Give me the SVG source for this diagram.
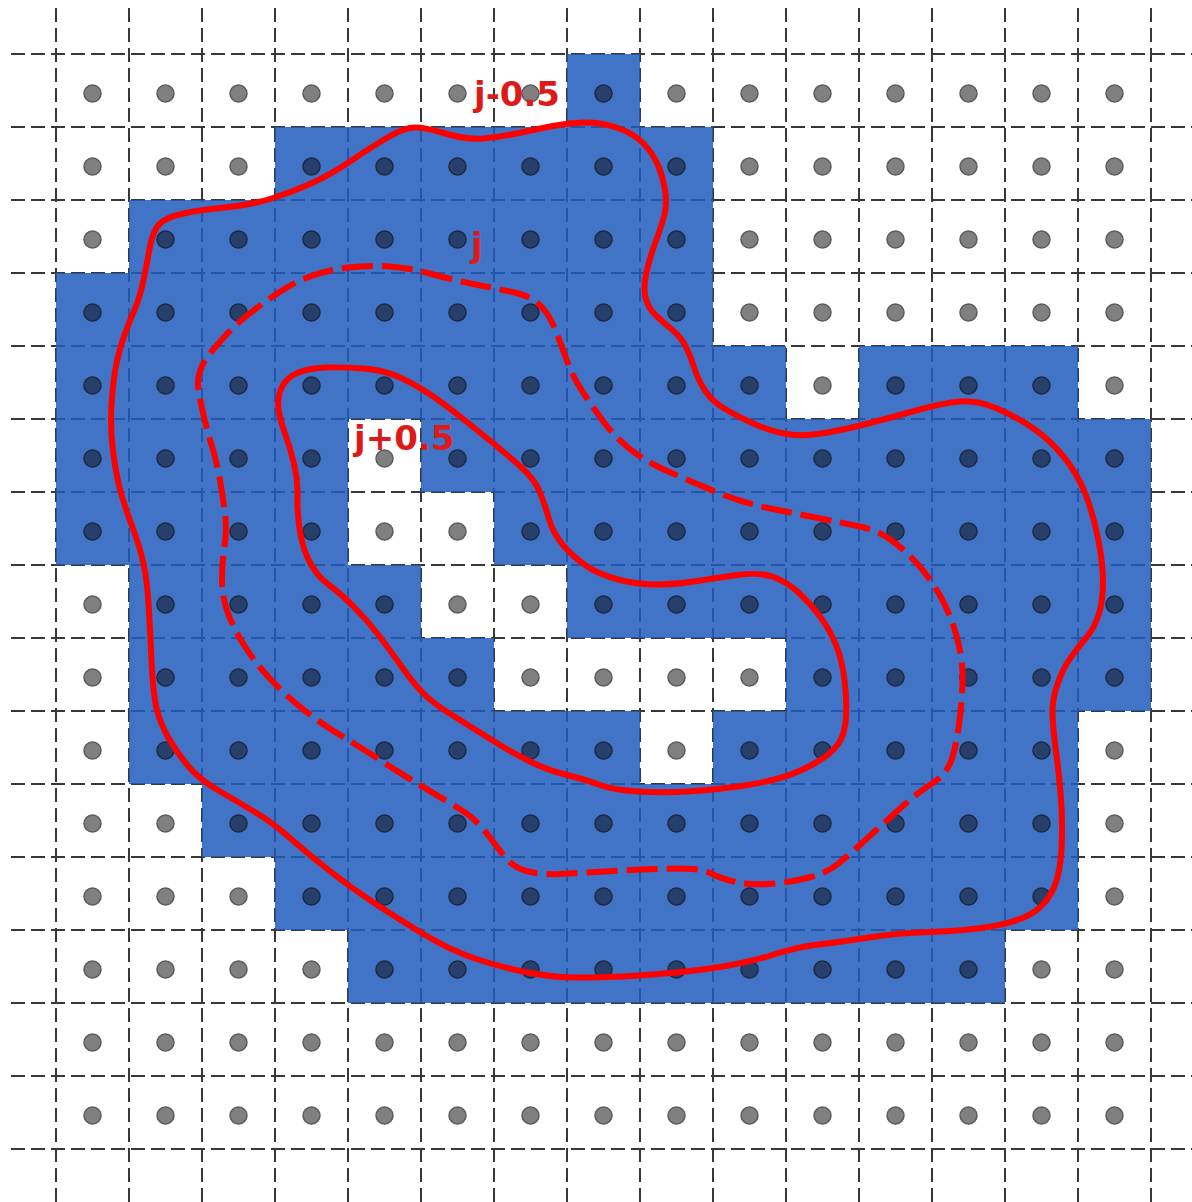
<svg xmlns="http://www.w3.org/2000/svg" width="1192" height="1202" viewBox="0 0 1192 1202">
<style>
.grid{fill:none;stroke:#383838;stroke-width:2;stroke-dasharray:14 6}
.cell{fill:#205cbc;fill-opacity:0.85}
.contour{fill:none;stroke:#ff0000;stroke-width:6;stroke-linejoin:round}
.dashed{stroke-dasharray:31 9}
.lbl{font-family:"DejaVu Sans",sans-serif;font-weight:bold;font-size:34px;fill:#dd1a1a}
</style>
<defs>
<pattern id="greyDots" patternUnits="userSpaceOnUse" x="56" y="54" width="73" height="73">
<circle cx="36.5" cy="39.5" r="8.5" fill="#808080" stroke="#5a5a5a" stroke-width="1.5"/>
</pattern>
<pattern id="darkDots" patternUnits="userSpaceOnUse" x="56" y="54" width="73" height="73">
<rect width="73" height="73" fill="none"/>
<circle cx="36.5" cy="39.5" r="8.5" fill="#263f6b" stroke="#18294a" stroke-width="1.5"/>
</pattern>
<path id="blueArea" d="M567 54h73v73h-73z M275 127h438v73h-438z M129 200h584v73h-584z M56 273h657v73h-657z M56 346h730v73h-730z M859 346h219v73h-219z M56 419h292v73h-292z M421 419h730v73h-730z M56 492h292v73h-292z M494 492h657v73h-657z M129 565h292v73h-292z M567 565h584v73h-584z M129 638h365v73h-365z M786 638h365v73h-365z M129 711h511v73h-511z M713 711h365v73h-365z M202 784h876v73h-876z M275 857h803v73h-803z M348 930h657v73h-657z"/>
</defs>
<rect width="1192" height="1202" fill="#ffffff"/>
<g id="grid-lines">
<path class="grid" d="M56 8V1202M129 8V1202M202 8V1202M275 8V1202M348 8V1202M421 8V1202M494 8V1202M567 8V1202M640 8V1202M713 8V1202M786 8V1202M859 8V1202M932 8V1202M1005 8V1202M1078 8V1202M1151 8V1202"/>
<path class="grid" d="M11 54H1192M11 127H1192M11 200H1192M11 273H1192M11 346H1192M11 419H1192M11 492H1192M11 565H1192M11 638H1192M11 711H1192M11 784H1192M11 857H1192M11 930H1192M11 1003H1192M11 1076H1192M11 1149H1192"/>
</g>
<g id="cells">
<use href="#blueArea" class="cell"/>
</g>
<g id="dots">
<rect x="56" y="54" width="1095" height="1095" fill="url(#greyDots)"/>
<use href="#blueArea" fill="url(#darkDots)"/>
</g>
<g id="contours">
<path id="contour-outer" class="contour" d="M 410,128 Q 420,126 443.5,133 Q 467,140 483.5,138.5 Q 500,137 516.5,133.5 Q 533,130 550,126.5 Q 567,123 583.5,122.5 Q 600,122 616.5,127.5 Q 633,133 643,143 Q 653,153 658.5,166.5 Q 664,180 665.5,193.5 Q 667,207 663.5,218.5 Q 660,230 655,243.5 Q 650,257 646.5,272 Q 643,287 645.5,297.5 Q 648,308 656,315.5 Q 664,323 672.5,330 Q 681,337 686,347 Q 691,357 694.5,368.5 Q 698,380 705,390.5 Q 712,401 723.5,408 Q 735,415 751,422.5 Q 767,430 783.5,433.5 Q 800,437 821.5,433.5 Q 843,430 868,423.5 Q 893,417 918,410 Q 943,403 960,401.5 Q 977,400 997,408.5 Q 1017,417 1033.5,428.5 Q 1050,440 1063.5,456.5 Q 1077,473 1085,493 Q 1093,513 1098,538 Q 1103,563 1103,581.5 Q 1103,600 1099,613.5 Q 1095,627 1087.5,636 Q 1080,645 1071.5,656.5 Q 1063,668 1057.5,684 Q 1052,700 1052.5,715 Q 1053,730 1055.5,747.5 Q 1058,765 1060.5,792.5 Q 1063,820 1061.5,848.5 Q 1060,877 1051.5,892.5 Q 1043,908 1028,915.5 Q 1013,923 988,927 Q 963,931 930,932 Q 897,933 868.5,937.5 Q 840,942 818.5,944.5 Q 797,947 772,955 Q 747,963 713.5,968 Q 680,973 638.5,975.5 Q 597,978 573.5,977.5 Q 550,977 525,972 Q 500,967 475,958.5 Q 450,950 425,935 Q 400,920 375,903.5 Q 350,887 328.5,870 Q 307,853 290,838 Q 273,823 256.5,813 Q 240,803 220,791.5 Q 200,780 188.5,766.5 Q 177,753 168.5,738 Q 160,723 156.5,708 Q 153,693 151.5,660 Q 150,627 148.5,603.5 Q 147,580 143.5,563.5 Q 140,547 133.5,530 Q 127,513 122,496.5 Q 117,480 113.5,455 Q 110,430 111.5,405 Q 113,380 116.5,363.5 Q 120,347 125,333.5 Q 130,320 135,308.5 Q 140,297 143.5,280 Q 147,263 150,246.5 Q 153,230 160,223.5 Q 167,217 183.5,213.5 Q 200,210 225,207.5 Q 250,205 270,199 Q 290,193 310,184 Q 330,175 350,161.5 Q 370,148 385,139 Q 400,130 410,128 Z"/>
<path id="contour-mid" class="contour dashed" d="M 198.5,390 Q 197,380 200,371 Q 203,362 210,353.5 Q 217,345 226,335 Q 235,325 249,314 Q 263,303 278,293 Q 293,283 310,276.5 Q 327,270 348.5,267.5 Q 370,265 390,266.5 Q 410,268 431.5,274 Q 453,280 473,284 Q 493,288 510,291.5 Q 527,295 535,301 Q 543,307 548,315 Q 553,323 558,336.5 Q 563,350 568,363.5 Q 573,377 581.5,390 Q 590,403 601.5,419 Q 613,435 628,447.5 Q 643,460 665,470 Q 687,480 715,491.5 Q 743,503 768,508 Q 793,513 818,518 Q 843,523 860,526.5 Q 877,530 891,540 Q 905,550 917.5,564 Q 930,578 940,595.5 Q 950,613 956,634 Q 962,655 962.5,672.5 Q 963,690 960,716.5 Q 957,743 952,758.5 Q 947,774 932,783.5 Q 917,793 900,808.5 Q 883,824 866.5,839 Q 850,854 838.5,863.5 Q 827,873 807,878 Q 787,883 767,884 Q 747,885 733.5,881.5 Q 720,878 712.5,874 Q 705,870 692.5,869 Q 680,868 655,869 Q 630,870 605,871.5 Q 580,873 560,874 Q 540,875 526.5,871 Q 513,867 505,857 Q 497,847 489.5,837 Q 482,827 474.5,820 Q 467,813 450,803 Q 433,793 416.5,783 Q 400,773 380,760 Q 360,747 340,735 Q 320,723 301.5,708 Q 283,693 268,676.5 Q 253,660 243,643.5 Q 233,627 227.5,612 Q 222,597 222,580 Q 222,563 224.5,546.5 Q 227,530 225,513.5 Q 223,497 220,480 Q 217,463 212,446.5 Q 207,430 203.5,415 Q 200,400 198.5,390 Z"/>
<path id="contour-inner" class="contour" d="M 282,387 Q 287,377 298.5,372.5 Q 310,368 326.5,367.5 Q 343,367 363,368.5 Q 383,370 398,376.5 Q 413,383 428,393 Q 443,403 460,416.5 Q 477,430 493.5,443.5 Q 510,457 522.5,468.5 Q 535,480 540,492.5 Q 545,505 549,519 Q 553,533 563,545 Q 573,557 586.5,566 Q 600,575 620,580 Q 640,585 660,584.5 Q 680,584 697.5,581 Q 715,578 737.5,575 Q 760,572 773.5,577 Q 787,582 798.5,592.5 Q 810,603 820,616.5 Q 830,630 836,645 Q 842,660 844.5,680 Q 847,700 846,717.5 Q 845,735 837.5,745 Q 830,755 813.5,764 Q 797,773 780,778 Q 763,783 738,786.5 Q 713,790 688,791.5 Q 663,793 638,791.5 Q 613,790 600,785 Q 587,780 567,775 Q 547,770 530,761.5 Q 513,753 500,745 Q 487,737 473.5,728.5 Q 460,720 446.5,711.5 Q 433,703 423,693 Q 413,683 401.5,666.5 Q 390,650 378.5,635 Q 367,620 353.5,606.5 Q 340,593 329,585 Q 318,577 310.5,563.5 Q 303,550 300,531.5 Q 297,513 297.5,496.5 Q 298,480 294,463.5 Q 290,447 285,433.5 Q 280,420 278.5,408.5 Q 277,397 282,387 Z"/>
</g>
<g id="labels">
<text class="lbl" x="474" y="106">j-0.5</text>
<text class="lbl" x="471" y="257">j</text>
<text class="lbl" x="354" y="450">j+0.5</text>
</g>
</svg>
